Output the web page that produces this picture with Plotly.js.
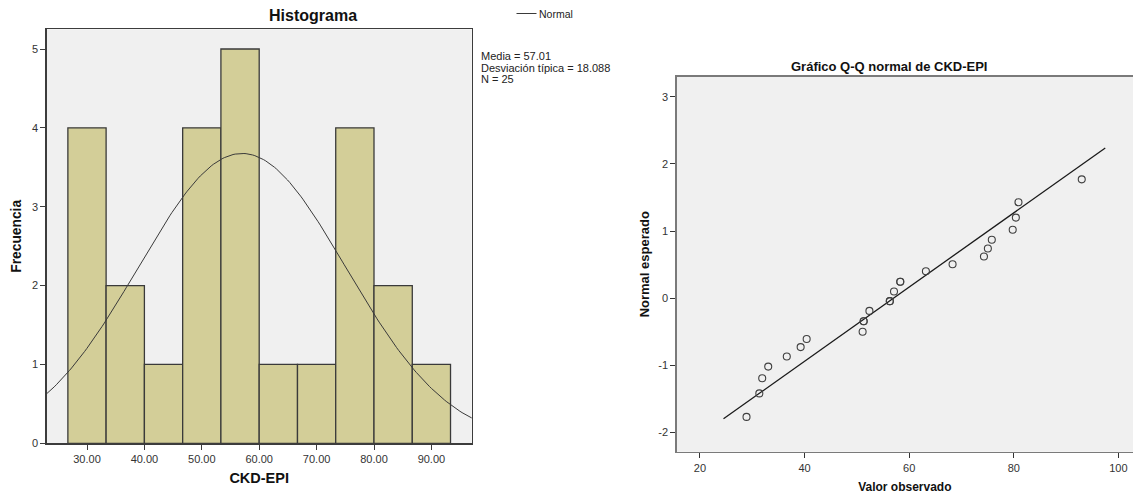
<!DOCTYPE html>
<html>
<head>
<meta charset="utf-8">
<script src="https://cdn.plot.ly/plotly-3.0.1.min.js"></script>
<style>html,body{margin:0;padding:0;background:#fff;}#chart{width:1133px;height:495px;}</style>
</head>
<body>
<div id="chart"></div>
<script>
// ---------- Data ----------
// Histogram (CKD-EPI)
const binEdges = [26.67, 33.33, 40.00, 46.67, 53.33, 60.00, 66.67, 73.33, 80.00, 86.67, 93.33];
const binCounts = [4, 2, 1, 4, 5, 1, 1, 4, 2, 1];
const histXTicks = [30, 40, 50, 60, 70, 80, 90];
const histYTicks = [0, 1, 2, 3, 4, 5];
const statMean = 57.01;
const statSD = 18.088;
const statN = 25;
const statLines = ["Media = 57.01", "Desviación típica = 18.088", "N = 25"];
const legendLabel = "Normal";

// Normal Q-Q plot (observed value vs expected normal)
const qqObserved = [28.9, 31.35, 31.9, 33.05, 36.6, 39.25, 40.4, 51.1, 51.3, 51.3, 52.4, 56.3, 56.3, 57.1, 58.3, 58.3, 63.2, 68.3, 74.3, 75.05, 75.8, 79.8, 80.4, 80.9, 93.0];
const qqExpected = [-1.77, -1.42, -1.195, -1.02, -0.87, -0.73, -0.61, -0.50, -0.345, -0.345, -0.19, -0.045, -0.045, 0.10, 0.245, 0.245, 0.40, 0.505, 0.62, 0.74, 0.87, 1.02, 1.20, 1.43, 1.77];
const qqLineX = [24.5, 97.5];
const qqXTicks = [20, 40, 60, 80, 100];
const qqYTicks = [-2, -1, 0, 1, 2, 3];

// ---------- Derived traces ----------
const binCenters = binCounts.map((c, i) => (binEdges[i] + binEdges[i + 1]) / 2);
const binWidths = binCounts.map((c, i) => binEdges[i + 1] - binEdges[i]);
const binW = (binEdges[binEdges.length - 1] - binEdges[0]) / binCounts.length;

// theoretical normal curve defined by the stated mean / sd / N
const curveX = [], curveY = [];
for (let k = 0; k <= 200; k++) {
  const x = 22 + k * (98 - 22) / 200;
  curveX.push(x);
  const z = (x - statMean) / statSD;
  curveY.push(statN * binW * Math.exp(-0.5 * z * z) / (statSD * Math.sqrt(2 * Math.PI)));
}
const qqLineY = qqLineX.map(x => (x - statMean) / statSD);

const W = 1133, H = 495;
const px = v => v / W;
const py = v => 1 - v / H;

const FONT = 'Liberation Sans, Arial, sans-serif';
const frameCol = '#3c3c3c';
const qqFrameCol = '#7a7a7a';

const traces = [
  {
    type: 'bar', x: binCenters, y: binCounts, width: binWidths,
    marker: {color: '#d3ce98', line: {color: '#3a3a3a', width: 1.3}},
    xaxis: 'x', yaxis: 'y', showlegend: false, hoverinfo: 'skip'
  },
  {
    type: 'scatter', mode: 'lines', x: curveX, y: curveY, name: legendLabel,
    line: {color: '#3a3a3a', width: 1}, xaxis: 'x', yaxis: 'y', showlegend: false
  },
  {
    type: 'scatter', mode: 'lines', x: qqLineX, y: qqLineY,
    line: {color: '#1a1a1a', width: 1.3}, xaxis: 'x2', yaxis: 'y2', showlegend: false
  },
  {
    type: 'scatter', mode: 'markers', x: qqObserved, y: qqExpected,
    marker: {symbol: 'circle-open', size: 7, color: '#404040', line: {width: 1.1, color: '#404040'}},
    xaxis: 'x2', yaxis: 'y2', showlegend: false
  }
];

const annotations = [
  {text: '<b>Histograma</b>', x: px(312.5), y: py(16), xref: 'paper', yref: 'paper',
   xanchor: 'center', yanchor: 'middle', showarrow: false,
   font: {family: FONT, size: 16, color: '#111'}},
  {text: '<b>Gráfico Q-Q normal de CKD-EPI</b>', x: px(889), y: py(66.5), xref: 'paper', yref: 'paper',
   xanchor: 'center', yanchor: 'middle', showarrow: false,
   font: {family: FONT, size: 13, color: '#111'}},
  {text: legendLabel, x: px(537), y: py(14), xref: 'paper', yref: 'paper',
   xanchor: 'left', yanchor: 'middle', showarrow: false,
   font: {family: FONT, size: 10.5, color: '#222'}}
];
statLines.forEach((t, i) => {
  annotations.push({text: t, x: px(478.5), y: py(56 + i * 11.7), xref: 'paper', yref: 'paper',
    xanchor: 'left', yanchor: 'middle', showarrow: false,
    font: {family: FONT, size: 11, color: '#222'}});
});

const shapes = [
  {type: 'line', xref: 'paper', yref: 'paper', x0: px(516.5), x1: px(536.5), y0: py(13.5), y1: py(13.5),
   line: {color: '#3a3a3a', width: 1}}
];

const tickFont = {family: FONT, size: 11, color: '#333'};

const layout = {
  width: W, height: H,
  margin: {l: 0, r: 0, t: 0, b: 0},
  paper_bgcolor: '#ffffff',
  plot_bgcolor: '#f0f0f0',
  font: {family: FONT},
  showlegend: false,
  xaxis: {
    domain: [px(46.7), px(471.7)], range: [22.98, 97.02], anchor: 'y',
    tickvals: histXTicks, ticktext: histXTicks.map(v => v.toFixed(2)),
    ticks: 'outside', ticklen: 5, tickcolor: frameCol, tickwidth: 1,
    showgrid: false, zeroline: false, showline: true, linecolor: frameCol, linewidth: 1.5, mirror: true,
    tickfont: tickFont,
    title: {text: '<b>CKD-EPI</b>', font: {family: FONT, size: 14.5, color: '#111'}, standoff: 9},
    automargin: false
  },
  yaxis: {
    domain: [py(443.3), py(29.3)], range: [0, 5.25], anchor: 'x',
    tickvals: histYTicks, ticktext: histYTicks.map(String), ticks: 'outside', ticklen: 5, tickcolor: frameCol, tickwidth: 1,
    showgrid: false, zeroline: false, showline: true, linecolor: frameCol, linewidth: 1.5, mirror: true,
    tickfont: tickFont,
    title: {text: '<b>Frecuencia</b>', font: {family: FONT, size: 13.8, color: '#111'}, standoff: 7},
    automargin: false
  },
  xaxis2: {
    domain: [px(676.7), 1], range: [15.55, 102.8], anchor: 'y2',
    tickvals: qqXTicks, ticktext: qqXTicks.map(String), ticks: 'outside', ticklen: 5, tickcolor: '#333', tickwidth: 1,
    showgrid: false, zeroline: false, showline: true, linecolor: qqFrameCol, linewidth: 1.5, mirror: true,
    tickfont: tickFont,
    title: {text: '<b>Valor observado</b>', font: {family: FONT, size: 12, color: '#111'}, standoff: 10},
    automargin: false
  },
  yaxis2: {
    domain: [py(451.8), py(76.7)], range: [-2.29, 3.30], anchor: 'x2',
    tickvals: qqYTicks, ticktext: qqYTicks.map(String), ticks: 'outside', ticklen: 5, tickcolor: '#333', tickwidth: 1,
    showgrid: false, zeroline: false, showline: true, linecolor: qqFrameCol, linewidth: 1.5, mirror: false,
    tickfont: tickFont,
    title: {text: '<b>Normal esperado</b>', font: {family: FONT, size: 13, color: '#111'}, standoff: 5},
    automargin: false
  },
  annotations: annotations,
  shapes: shapes,
  bargap: 0
};

Plotly.newPlot('chart', traces, layout, {displayModeBar: false, staticPlot: true});
</script>
</body>
</html>
